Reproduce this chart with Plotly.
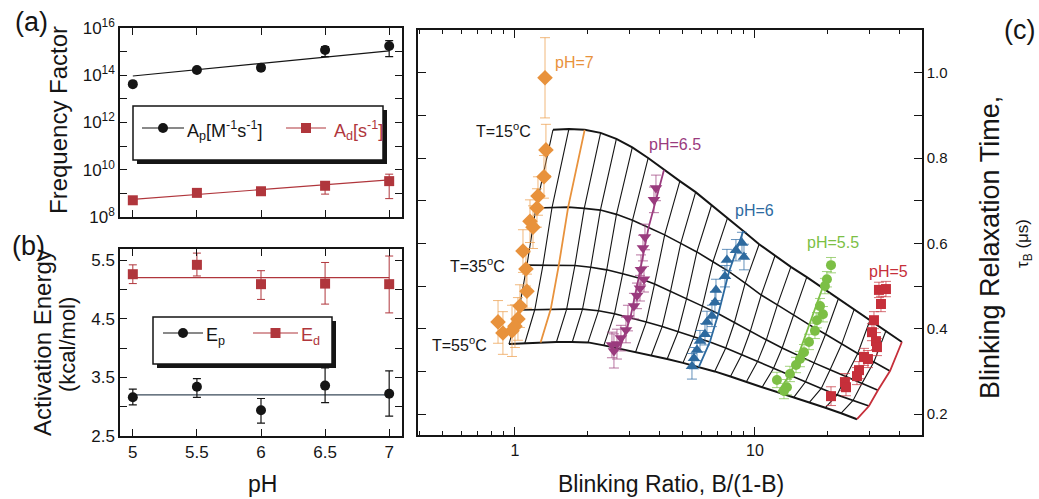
import math
import plotly.graph_objects as go

W, H = 1039, 499
FONT = "Liberation Sans, Arial, Helvetica, sans-serif"

BLACK = "#151515"
RED_AB = "#B0363C"
ORANGE = "#E8923C"
PURPLE = "#9A3B7E"
BLUE = "#2D6A9F"
GREEN = "#7CBF45"
RED_C = "#C62F3A"

# ---------------- (a) frequency factors and (b) activation energies vs pH
ph = [5.0, 5.5, 6.0, 6.5, 7.0]
ph_labels = ["5", "5.5", "6", "6.5", "7"]

a_p = [4.2e13, 1.66e14, 2.1e14, 1.17e15, 1.74e15]
a_p_err_hi = [0.8e13, 0.35e14, 0.6e14, 0.45e15, 1.16e15]
a_p_err_lo = [0.7e13, 0.3e14, 0.5e14, 0.55e15, 1.12e15]
a_d = [5.1e8, 1.05e9, 1.23e9, 2.1e9, 3.3e9]
a_d_err_hi = [0.7e8, 0.15e9, 0.4e9, 1.0e9, 3.2e9]
a_d_err_lo = [0.6e8, 0.15e9, 0.3e9, 1.17e9, 2.7e9]
fit_ph = [5.0, 7.0]
a_p_fit = [9.3e13, 1.07e15]
a_d_fit = [5.6e8, 3.7e9]

e_p = [3.16, 3.34, 2.94, 3.36, 3.22]
e_p_err_hi = [0.14, 0.14, 0.20, 0.30, 0.39]
e_p_err_lo = [0.13, 0.18, 0.22, 0.29, 0.38]
e_d = [5.26, 5.42, 5.09, 5.10, 5.09]
e_d_err_hi = [0.16, 0.20, 0.23, 0.36, 0.48]
e_d_err_lo = [0.16, 0.19, 0.26, 0.35, 0.49]
e_p_fit = [3.2, 3.2]
e_d_fit = [5.2, 5.2]

# ---------------- (c) model grid: one row per temperature, one column per pH
ph_grid = [7.2, 7.1, 7.0, 6.9, 6.8, 6.7, 6.6, 6.5, 6.4, 6.3, 6.2, 6.1,
           6.0, 5.9, 5.8, 5.7, 5.6, 5.5, 5.4, 5.3, 5.2, 5.1, 5.0]

ratio_15 = [1.440, 1.677, 1.952, 2.274, 2.646, 3.083, 3.589, 4.177, 4.865, 5.661, 6.596, 7.681,
            8.940, 10.41, 12.12, 14.11, 16.44, 19.13, 22.28, 25.93, 30.20, 35.18, 40.94]
tau_15 = [0.866, 0.868, 0.866, 0.859, 0.845, 0.825, 0.800, 0.772, 0.746, 0.720, 0.690, 0.659,
          0.629, 0.598, 0.571, 0.545, 0.521, 0.496, 0.471, 0.446, 0.421, 0.396, 0.369]

ratio_25 = [1.223, 1.427, 1.666, 1.944, 2.270, 2.648, 3.088, 3.603, 4.206, 4.907, 5.727, 6.683,
            7.800, 9.104, 10.62, 12.40, 14.45, 16.87, 19.69, 22.98, 26.81, 31.29, 36.52]
tau_25 = [0.683, 0.684, 0.685, 0.682, 0.678, 0.668, 0.654, 0.637, 0.620, 0.600, 0.580, 0.557,
          0.534, 0.507, 0.479, 0.456, 0.432, 0.409, 0.387, 0.364, 0.342, 0.322, 0.301]

ratio_35 = [1.122, 1.308, 1.523, 1.777, 2.069, 2.412, 2.811, 3.277, 3.817, 4.449, 5.184, 6.043,
            7.039, 8.207, 9.559, 11.15, 12.98, 15.14, 17.63, 20.56, 23.95, 27.92, 32.54]
tau_35 = [0.549, 0.549, 0.549, 0.548, 0.544, 0.538, 0.529, 0.519, 0.505, 0.488, 0.470, 0.453,
          0.435, 0.414, 0.394, 0.374, 0.355, 0.337, 0.320, 0.304, 0.288, 0.272, 0.256]

ratio_45 = [1.039, 1.210, 1.410, 1.642, 1.912, 2.228, 2.598, 3.026, 3.525, 4.105, 4.782, 5.570,
            6.489, 7.556, 8.804, 10.25, 11.94, 13.92, 16.22, 18.89, 22.00, 25.63, 29.85]
tau_45 = [0.444, 0.445, 0.446, 0.446, 0.446, 0.442, 0.435, 0.426, 0.416, 0.405, 0.393, 0.381,
          0.369, 0.355, 0.339, 0.323, 0.307, 0.291, 0.275, 0.260, 0.245, 0.232, 0.219]

ratio_55 = [0.944, 1.099, 1.279, 1.489, 1.733, 2.016, 2.346, 2.731, 3.180, 3.701, 4.308, 5.012,
            5.833, 6.795, 7.906, 9.201, 10.71, 12.46, 14.51, 16.89, 19.65, 22.87, 26.61]
tau_55 = [0.364, 0.366, 0.368, 0.369, 0.369, 0.368, 0.361, 0.353, 0.345, 0.338, 0.329, 0.320,
          0.310, 0.300, 0.288, 0.275, 0.263, 0.251, 0.239, 0.228, 0.215, 0.202, 0.188]

# ---------------- (c) measured blinking data
ratio_ph7 = [1.334, 1.346, 1.321, 1.247, 1.235, 1.155, 1.189, 1.080, 1.111, 1.122, 1.049, 1.029,
             1.000, 0.850, 0.891, 0.972]
tau_ph7 = [0.988, 0.819, 0.756, 0.711, 0.683, 0.652, 0.638, 0.582, 0.540, 0.488, 0.453, 0.423,
           0.406, 0.416, 0.390, 0.395]
err_ph7 = [0.094, 0.060, 0.050, 0.045, 0.045, 0.050, 0.050, 0.050, 0.040, 0.040, 0.050, 0.050,
           0.050, 0.050, 0.050, 0.060]

ratio_ph65 = [3.868, 3.795, 3.481, 3.415, 3.350, 3.448, 3.318, 3.224, 3.132, 2.957, 2.901, 2.764,
              2.661, 2.536, 2.585]
tau_ph65 = [0.730, 0.702, 0.615, 0.589, 0.538, 0.516, 0.495, 0.477, 0.453, 0.425, 0.397, 0.378,
            0.364, 0.362, 0.348]
err_ph65 = [0.030, 0.030, 0.030, 0.030, 0.035, 0.030, 0.030, 0.030, 0.030, 0.030, 0.030, 0.030,
            0.035, 0.030, 0.040]

ratio_ph6 = [8.828, 8.333, 8.999, 7.643, 7.499, 6.879, 6.812, 6.619, 6.310, 6.190, 5.900, 5.733,
             5.570, 5.464]
tau_ph6 = [0.601, 0.584, 0.568, 0.561, 0.523, 0.491, 0.462, 0.430, 0.416, 0.387, 0.371, 0.350,
           0.331, 0.312]
err_ph6 = [0.025, 0.025, 0.030, 0.025, 0.025, 0.025, 0.025, 0.025, 0.025, 0.025, 0.025, 0.025,
           0.025, 0.030]

ratio_ph55 = [20.74, 19.95, 19.57, 18.66, 19.20, 18.13, 17.78, 16.79, 16.01, 15.40, 14.83, 13.99,
              12.35, 13.59, 13.21]
tau_ph55 = [0.549, 0.516, 0.500, 0.453, 0.434, 0.420, 0.395, 0.369, 0.345, 0.329, 0.315, 0.294,
            0.280, 0.263, 0.254]
err_ph55 = [0.018, 0.018, 0.018, 0.018, 0.018, 0.018, 0.018, 0.018, 0.018, 0.018, 0.018, 0.018,
            0.018, 0.018, 0.018]

ratio_ph5 = [32.86, 35.14, 33.50, 31.32, 30.73, 31.93, 32.24, 28.47, 29.57, 27.13, 26.61, 23.71,
             23.95, 20.74]
tau_ph5 = [0.491, 0.493, 0.458, 0.420, 0.392, 0.371, 0.357, 0.334, 0.329, 0.303, 0.289, 0.275,
           0.263, 0.242]
err_ph5 = [0.018, 0.018, 0.018, 0.020, 0.020, 0.020, 0.020, 0.020, 0.020, 0.020, 0.020, 0.020,
           0.020, 0.022]


def px(x):
    return x / W


def py(y):
    return 1 - y / H


fig = go.Figure()

# ---------------- panel (a)
fig.add_trace(go.Scatter(x=fit_ph, y=a_p_fit, mode="lines", line=dict(color=BLACK, width=1.2),
                         xaxis="x", yaxis="y", showlegend=False))
fig.add_trace(go.Scatter(x=fit_ph, y=a_d_fit, mode="lines", line=dict(color=RED_AB, width=1.2),
                         xaxis="x", yaxis="y", showlegend=False))
fig.add_trace(go.Scatter(x=ph, y=a_p, mode="markers", xaxis="x", yaxis="y", showlegend=False,
                         marker=dict(symbol="circle", size=10, color=BLACK),
                         error_y=dict(type="data", symmetric=False, array=a_p_err_hi,
                                      arrayminus=a_p_err_lo, color=BLACK, thickness=1.2, width=4)))
fig.add_trace(go.Scatter(x=ph, y=a_d, mode="markers", xaxis="x", yaxis="y", showlegend=False,
                         marker=dict(symbol="square", size=10, color=RED_AB),
                         error_y=dict(type="data", symmetric=False, array=a_d_err_hi,
                                      arrayminus=a_d_err_lo, color=RED_AB, thickness=1, width=4)))

# ---------------- panel (b)
fig.add_trace(go.Scatter(x=fit_ph, y=e_p_fit, mode="lines", line=dict(color="#3a4a5a", width=1.2),
                         xaxis="x2", yaxis="y2", showlegend=False))
fig.add_trace(go.Scatter(x=fit_ph, y=e_d_fit, mode="lines", line=dict(color=RED_AB, width=1.2),
                         xaxis="x2", yaxis="y2", showlegend=False))
fig.add_trace(go.Scatter(x=ph, y=e_p, mode="markers", xaxis="x2", yaxis="y2", showlegend=False,
                         marker=dict(symbol="circle", size=10, color=BLACK),
                         error_y=dict(type="data", symmetric=False, array=e_p_err_hi,
                                      arrayminus=e_p_err_lo, color=BLACK, thickness=1.2, width=4)))
fig.add_trace(go.Scatter(x=ph, y=e_d, mode="markers", xaxis="x2", yaxis="y2", showlegend=False,
                         marker=dict(symbol="square", size=10, color=RED_AB),
                         error_y=dict(type="data", symmetric=False, array=e_d_err_hi,
                                      arrayminus=e_d_err_lo, color=RED_AB, thickness=1, width=4)))

# ---------------- panel (c): model mesh
temps = [(ratio_15, tau_15), (ratio_25, tau_25), (ratio_35, tau_35),
         (ratio_45, tau_45), (ratio_55, tau_55)]
highlight = {7.0: ORANGE, 6.5: PURPLE, 6.0: BLUE, 5.5: GREEN, 5.0: RED_C}

mx, my = [], []
for i, p in enumerate(ph_grid):
    if p in highlight:
        continue
    for r, t in temps:
        mx.append(r[i])
        my.append(t[i])
    mx.append(None)
    my.append(None)
fig.add_trace(go.Scatter(x=mx, y=my, mode="lines", line=dict(color=BLACK, width=1.1),
                         xaxis="x3", yaxis="y3", showlegend=False))

for k, (r, t) in enumerate(temps):
    w = 2.0 if k in (0, len(temps) - 1) else 1.6
    fig.add_trace(go.Scatter(x=r, y=t, mode="lines", line=dict(color=BLACK, width=w),
                             xaxis="x3", yaxis="y3", showlegend=False))

for p, col in highlight.items():
    i = ph_grid.index(p)
    fig.add_trace(go.Scatter(x=[r[i] for r, _ in temps], y=[t[i] for _, t in temps],
                             mode="lines", line=dict(color=col, width=1.8),
                             xaxis="x3", yaxis="y3", showlegend=False))

# ---------------- panel (c): measurements
series = [
    (ratio_ph7, tau_ph7, err_ph7, ORANGE, "rgba(236,160,80,0.75)", "diamond", 12),
    (ratio_ph65, tau_ph65, err_ph65, PURPLE, "rgba(160,70,130,0.75)", "triangle-down", 11),
    (ratio_ph6, tau_ph6, err_ph6, BLUE, "rgba(50,110,165,0.75)", "triangle-up", 11),
    (ratio_ph55, tau_ph55, err_ph55, GREEN, "rgba(130,195,80,0.75)", "circle", 10),
    (ratio_ph5, tau_ph5, err_ph5, RED_C, "rgba(200,60,70,0.75)", "square", 10),
]
for r, t, e, col, ecol, sym, size in series:
    fig.add_trace(go.Scatter(x=r, y=t, mode="markers", xaxis="x3", yaxis="y3", showlegend=False,
                             marker=dict(symbol=sym, size=size, color=col),
                             error_y=dict(type="data", array=e, color=ecol, thickness=1, width=5)))

axis_common = dict(showline=True, linecolor=BLACK, linewidth=1.5, mirror="ticks",
                   ticks="inside", tickcolor=BLACK, showgrid=False, zeroline=False,
                   automargin=False,
                   tickfont=dict(family=FONT, size=17, color=BLACK))

fig.update_layout(
    template="none",
    width=W, height=H, margin=dict(l=0, r=0, t=0, b=0, pad=0), autosize=False,
    paper_bgcolor="white", plot_bgcolor="white", showlegend=False,
    font=dict(family=FONT, color=BLACK),
    xaxis=dict(domain=[px(120), px(402)], range=[4.9, 7.1], anchor="y",
               tickvals=ph, showticklabels=False, ticklen=7, tickwidth=1.2, **axis_common),
    yaxis=dict(domain=[py(217), py(28)], type="log", range=[8, 16], anchor="x",
               tickvals=[1e8, 1e10, 1e12, 1e14, 1e16],
               ticktext=["10<sup>8</sup>", "10<sup>10</sup>", "10<sup>12</sup>",
                         "10<sup>14</sup>", "10<sup>16</sup>"],
               ticklen=7, tickwidth=1.2,
               minor=dict(tickvals=[1e9, 1e11, 1e13, 1e15], ticks="inside", ticklen=7,
                          tickcolor=BLACK, tickwidth=1.2),
               **axis_common),
    xaxis2=dict(domain=[px(120), px(402)], range=[4.9, 7.1], anchor="y2",
                tickvals=ph, ticktext=ph_labels, ticklen=7, tickwidth=1.2, **axis_common),
    yaxis2=dict(domain=[py(436), py(249)], range=[2.5, 5.69], anchor="x2",
                tickvals=[2.5, 3.5, 4.5, 5.5], ticktext=["2.5", "3.5", "4.5", "5.5"],
                ticklen=7, tickwidth=1.2,
                minor=dict(tickvals=[3.0, 4.0, 5.0], ticks="inside", ticklen=7,
                           tickcolor=BLACK, tickwidth=1.2),
                **axis_common),
    xaxis3=dict(domain=[px(418), px(922)], type="log", range=[-0.404, 1.696], anchor="y3",
                tickvals=[1, 10], ticktext=["1", "10"], ticklen=8, tickwidth=1.2,
                minor=dict(tickvals=[0.4, 0.5, 0.6, 0.7, 0.8, 0.9, 2, 3, 4, 5, 6, 7, 8, 9,
                                     20, 30, 40],
                           ticks="inside", ticklen=4, tickcolor=BLACK, tickwidth=1),
                **{**axis_common, "tickfont": dict(family=FONT, size=16, color=BLACK)}),
    yaxis3=dict(domain=[py(435), py(30)], range=[0.151, 1.100], anchor="x3", side="right",
                tickvals=[0.2, 0.4, 0.6, 0.8, 1.0], ticktext=["0.2", "0.4", "0.6", "0.8", "1.0"],
                ticklen=8, tickwidth=1.2,
                minor=dict(tickvals=[0.3, 0.5, 0.7, 0.9], ticks="inside", ticklen=8,
                           tickcolor=BLACK, tickwidth=1),
                **{**axis_common, "tickfont": dict(family=FONT, size=15, color=BLACK)}),
)

shapes = []
annotations = []


def paper_text(text, x, y, size, color=BLACK, angle=0, xanchor="center", yanchor="middle"):
    annotations.append(dict(text=text, x=px(x), y=py(y), xref="paper", yref="paper",
                            showarrow=False, textangle=angle, xanchor=xanchor, yanchor=yanchor,
                            borderpad=0, font=dict(family=FONT, size=size, color=color)))


def legend_box(x0, y0, x1, y1):
    shapes.append(dict(type="rect", xref="paper", yref="paper", x0=px(x0 + 4), x1=px(x1 + 4),
                       y0=py(y1 + 4), y1=py(y0 + 4), fillcolor=BLACK, line=dict(width=0)))
    shapes.append(dict(type="rect", xref="paper", yref="paper", x0=px(x0), x1=px(x1),
                       y0=py(y1), y1=py(y0), fillcolor="white",
                       line=dict(color=BLACK, width=1.5)))


def legend_sample(x0, x1, y, color, symbol):
    shapes.append(dict(type="line", xref="paper", yref="paper", x0=px(x0), x1=px(x1),
                       y0=py(y), y1=py(y), line=dict(color=color, width=1.2)))
    cx = (x0 + x1) / 2
    shapes.append(dict(type=symbol, xref="paper", yref="paper", x0=px(cx - 5), x1=px(cx + 5),
                       y0=py(y + 5), y1=py(y - 5), fillcolor=color, line=dict(color=color, width=0)))


# legend of (a)
legend_box(133, 106, 383, 160)
legend_sample(142, 184, 128, BLACK, "circle")
paper_text("A<sub>p</sub>[M<sup>-1</sup>s<sup>-1</sup>]", 186, 130, 18, BLACK, xanchor="left")
legend_sample(286, 326, 128, RED_AB, "rect")
paper_text("A<sub>d</sub>[s<sup>-1</sup>]", 333, 130, 18, RED_AB, xanchor="left")

# legend of (b)
legend_box(153, 317, 332, 364)
legend_sample(163, 203, 333, BLACK, "circle")
paper_text("E<sub>p</sub>", 205, 336, 18, BLACK, xanchor="left")
legend_sample(253, 298, 333, RED_AB, "rect")
paper_text("E<sub>d</sub>", 300, 336, 18, RED_AB, xanchor="left")

# panel letters and axis titles
paper_text("(a)", 31, 22, 27)
paper_text("(b)", 28, 246, 27)
paper_text("(c)", 1019, 30, 27)
paper_text("Frequency Factor", 58, 120, 24, angle=-90)
paper_text("Activation Energy", 42, 343, 24, angle=-90)
paper_text("(kcal/mol)", 67, 345, 22, angle=-90)
paper_text("pH", 262, 484, 23)
paper_text("Blinking Ratio, B/(1-B)", 671, 484, 23)
paper_text("Blinking Relaxation Time,", 990, 248, 27, angle=-90)
paper_text("τ<sub>B</sub> (μs)", 1024, 244, 17, angle=-90)

# in-plot labels of (c)
for tcurve, lab in [((ratio_15, tau_15), "T=15<sup>o</sup>C"),
                    ((ratio_35, tau_35), "T=35<sup>o</sup>C"),
                    ((ratio_55, tau_55), "T=55<sup>o</sup>C")]:
    annotations.append(dict(text=lab, x=math.log10(tcurve[0][0]), y=tcurve[1][0],
                            xref="x3", yref="y3", showarrow=False, xanchor="right",
                            yanchor="middle", xshift=-20,
                            font=dict(family=FONT, size=16, color=BLACK)))

for lab, xv, yv, col in [("pH=7", 1.44, 1.023, ORANGE), ("pH=6.5", 3.55, 0.831, PURPLE),
                         ("pH=6", 8.09, 0.678, BLUE), ("pH=5.5", 16.1, 0.603, GREEN),
                         ("pH=5", 29.3, 0.533, RED_C)]:
    annotations.append(dict(text=lab, x=math.log10(xv), y=yv, xref="x3", yref="y3",
                            showarrow=False, xanchor="left", yanchor="middle",
                            font=dict(family=FONT, size=16, color=col)))

fig.update_layout(shapes=shapes, annotations=annotations)
fig.write_html("out.html")
